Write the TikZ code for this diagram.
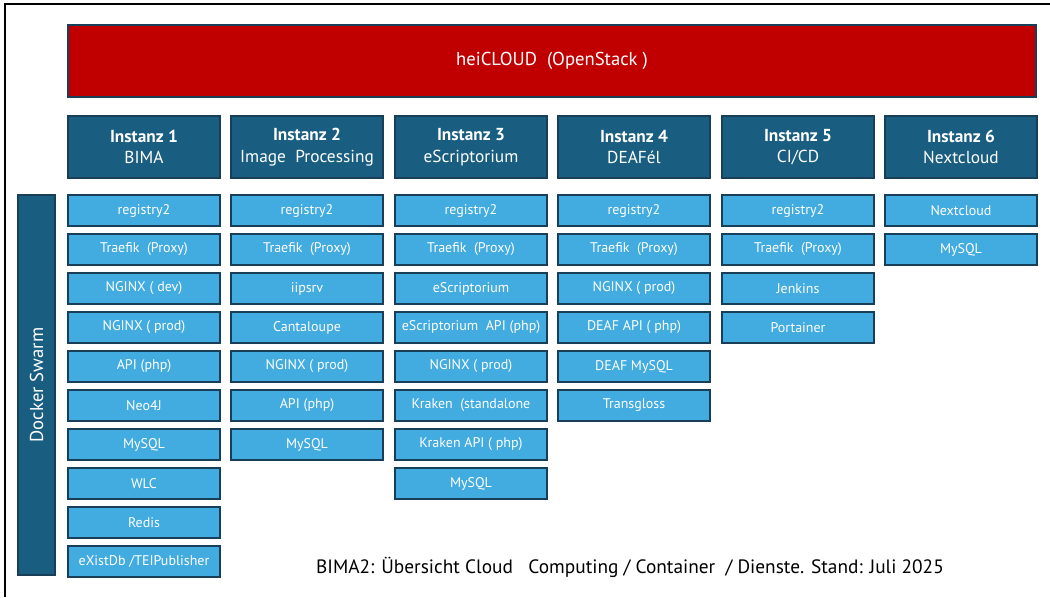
\documentclass[tikz,border=0pt]{standalone}
\usepackage{fontspec}
\setmainfont{PT Sans}
\definecolor{cloudred}{RGB}{192,0,0}
\definecolor{instblue}{RGB}{25,94,128}
\definecolor{svcblue}{RGB}{66,171,224}
\definecolor{edgeblue}{RGB}{24,62,88}

\begin{document}
\begin{tikzpicture}[x=0.75pt, y=-0.75pt,
  svc/.style={draw=edgeblue, line width=1pt, fill=svcblue, text=white,
    minimum width=114pt, minimum height=23.25pt, inner sep=0pt,
    font=\fontsize{10.5}{12}\selectfont},
  inst/.style={draw=edgeblue, line width=0.8pt, fill=instblue, text=white,
    minimum width=114pt, minimum height=46.5pt, inner sep=0pt, align=center,
    font=\fontsize{13}{16}\selectfont}]
  \useasboundingbox (0,0) rectangle (1050,597);
  %% frame
  \draw[line width=1.1pt] (5,597) -- (5,4) -- (1050,4);

  %% cloud
  \node[draw=edgeblue, line width=0.8pt, fill=cloudred, text=white,
    minimum width=726pt, minimum height=54pt, inner sep=0pt,
    font=\fontsize{14}{16}\selectfont] (cloud) at (552,61) {heiCLOUD\ \ (OpenStack\ )};

  %% swarm
  \node[draw=edgeblue, line width=0.8pt, fill=instblue, text=white,
    minimum width=285pt, minimum height=27.75pt, inner sep=0pt, rotate=90,
    font=\fontsize{14}{16}\selectfont] (swarm) at (36.5,385) {Docker Swarm};

  %% instances
  \node[inst] (inst1) at (144,147) {\textbf{Instanz 1}\\BIMA};
  \node[inst] (inst2) at (307,147) {\textbf{Instanz 2}\\Image\ \ Processing};
  \node[inst] (inst3) at (471,147) {\textbf{Instanz 3}\\eScriptorium};
  \node[inst] (inst4) at (634,147) {\textbf{Instanz 4}\\DEAFél};
  \node[inst] (inst5) at (798,147) {\textbf{Instanz 5}\\CI/CD};
  \node[inst] (inst6) at (961,147) {\textbf{Instanz 6}\\Nextcloud};

  %% instance 1
  \node[svc] (bimaReg) at (144,210.5) {registry2};
  \node[svc] (bimaProxy) at (144,249.5) {Traefik\ \ (Proxy)};
  \node[svc] (bimaDev) at (144,288.5) {NGINX ( dev)};
  \node[svc] (bimaProd) at (144,327.5) {NGINX ( prod)};
  \node[svc] (bimaApi) at (144,366.5) {API (php)};
  \node[svc] (bimaNeo) at (144,405.5) {Neo4J};
  \node[svc] (bimaSql) at (144,444.5) {MySQL};
  \node[svc] (bimaWlc) at (144,483.5) {WLC};
  \node[svc] (bimaRedis) at (144,522.5) {Redis};
  \node[svc] (bimaExist) at (144,561.5) {eXistDb /TEIPublisher};

  %% instance 2
  \node[svc] (imgReg) at (307,210.5) {registry2};
  \node[svc] (imgProxy) at (307,249.5) {Traefik\ \ (Proxy)};
  \node[svc] (imgIip) at (307,288.5) {iipsrv};
  \node[svc] (imgCanta) at (307,327.5) {Cantaloupe};
  \node[svc] (imgProd) at (307,366.5) {NGINX ( prod)};
  \node[svc] (imgApi) at (307,405.5) {API (php)};
  \node[svc] (imgSql) at (307,444.5) {MySQL};

  %% instance 3
  \node[svc] (escReg) at (471,210.5) {registry2};
  \node[svc] (escProxy) at (471,249.5) {Traefik\ \ (Proxy)};
  \node[svc] (escApp) at (471,288.5) {eScriptorium};
  \node[svc] (escApi) at (471,327.5) {eScriptorium\ \ API (php)};
  \node[svc] (escProd) at (471,366.5) {NGINX ( prod)};
  \node[svc] (escKraken) at (471,405.5) {Kraken\ \ (standalone};
  \node[svc] (escKrakenApi) at (471,444.5) {Kraken API ( php)};
  \node[svc] (escSql) at (471,483.5) {MySQL};

  %% instance 4
  \node[svc] (deafReg) at (634,210.5) {registry2};
  \node[svc] (deafProxy) at (634,249.5) {Traefik\ \ (Proxy)};
  \node[svc] (deafProd) at (634,288.5) {NGINX ( prod)};
  \node[svc] (deafApi) at (634,327.5) {DEAF API ( php)};
  \node[svc] (deafSql) at (634,366.5) {DEAF MySQL};
  \node[svc] (deafTrans) at (634,405.5) {Transgloss};

  %% instance 5
  \node[svc] (ciReg) at (798,210.5) {registry2};
  \node[svc] (ciProxy) at (798,249.5) {Traefik\ \ (Proxy)};
  \node[svc] (ciJenkins) at (798,288.5) {Jenkins};
  \node[svc] (ciPortainer) at (798,327.5) {Portainer};

  %% instance 6
  \node[svc] (ncApp) at (961,210.5) {Nextcloud};
  \node[svc] (ncSql) at (961,249.5) {MySQL};

  %% caption
  \node[font=\fontsize{14.5}{18}\selectfont] (caption) at (630,567)
    {BIMA2: Übersicht Cloud\ \ \ Computing / Container\ \ / Dienste. Stand: Juli 2025};
\end{tikzpicture}
\end{document}
